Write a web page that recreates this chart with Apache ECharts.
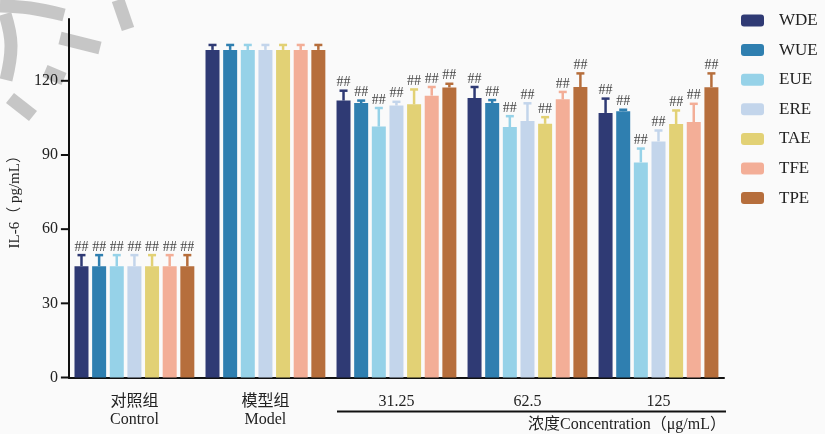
<!DOCTYPE html>
<html>
<head>
<meta charset="utf-8">
<script src="https://cdn.jsdelivr.net/npm/echarts@6/dist/echarts.min.js"></script>
<style>
  html, body { margin: 0; padding: 0; background: #fafafa; }
  #chart { width: 825px; height: 434px; }
</style>
</head>
<body>
<div id="chart"></div>
<script>
// Groups along the x axis
const categories = ['对照组\nControl', '模型组\nModel', '31.25', '62.5', '125'];
// Significance marks printed above each group's error bars
const sigMarks = ['##', '', '##', '##', '##'];
// y axis tick values
const yTicks = [0, 30, 60, 90, 120];

// Extract names
const seriesNames = ['WDE', 'WUE', 'EUE', 'ERE', 'TAE', 'TFE', 'TPE'];

// IL-6 means (pg/mL) per extract, one value per group
const meanWDE = [45, 132.5, 112.0, 113.0, 107.0];
const meanWUE = [45, 132.5, 111.0, 111.0, 107.7];
const meanEUE = [45, 132.5, 101.5, 101.3, 87.0];
const meanERE = [45, 132.5, 110.0, 103.7, 95.5];
const meanTAE = [45, 132.5, 110.5, 102.6, 102.5];
const meanTFE = [45, 132.5, 114.0, 112.5, 103.3];
const meanTPE = [45, 132.5, 117.3, 117.5, 117.4];

// Standard deviations
const sdWDE = [4.5, 2, 4.0, 4.5, 5.8];
const sdWUE = [4.5, 2, 1.0, 1.2, 0.6];
const sdEUE = [4.5, 2, 7.5, 4.4, 5.6];
const sdERE = [4.5, 2, 1.5, 7.2, 4.4];
const sdTAE = [4.5, 2, 6.0, 2.7, 5.5];
const sdTFE = [4.5, 2, 3.5, 3.0, 7.4];
const sdTPE = [4.5, 2, 1.5, 5.5, 5.6];

const means = [meanWDE, meanWUE, meanEUE, meanERE, meanTAE, meanTFE, meanTPE];
const sds = [sdWDE, sdWUE, sdEUE, sdERE, sdTAE, sdTFE, sdTPE];
const colors = ['#2f3a74', '#2f7fb0', '#96d2e8', '#c3d5eb', '#e2d175', '#f3ae97', '#b66e3c'];

const BAR_W = 14;
const GAP_RATIO = 0.26;
const PITCH = BAR_W * (1 + GAP_RATIO);
const TICK_LEN = 8;
const SERIF = '"Liberation Serif", "Noto Sans CJK SC", serif';

const chart = echarts.init(document.getElementById('chart'), null, { renderer: 'canvas' });

const series = [];
seriesNames.forEach((name, i) => {
  series.push({
    name: name,
    type: 'bar',
    barWidth: BAR_W,
    barGap: (GAP_RATIO * 100) + '%',
    itemStyle: { color: colors[i] },
    data: means[i],
    z: 2
  });
});
// Error bars (upper whisker only) with significance marks
seriesNames.forEach((name, i) => {
  series.push({
    name: name,
    type: 'custom',
    clip: false,
    z: 3,
    data: means[i].map((m, k) => [k, m, sds[i][k]]),
    renderItem: function (params, api) {
      const k = api.value(0);
      const m = api.value(1);
      const sd = api.value(2);
      const base = api.coord([k, m]);
      const top = api.coord([k, m + sd]);
      const x = base[0] + (i - 3) * PITCH;
      const children = [
        { type: 'line', shape: { x1: x, y1: base[1], x2: x, y2: top[1] },
          style: { stroke: colors[i], lineWidth: 2.5 } },
        { type: 'line', shape: { x1: x - 4, y1: top[1], x2: x + 4, y2: top[1] },
          style: { stroke: colors[i], lineWidth: 2.5 } }
      ];
      if (sigMarks[k]) {
        children.push({
          type: 'text',
          style: { text: sigMarks[k], x: x, y: top[1] - 1, align: 'center', verticalAlign: 'bottom',
                   font: '14px ' + SERIF, fill: '#444' }
        });
      }
      return { type: 'group', children: children };
    }
  });
});

// Light grey decorative strokes in the upper-left corner
const decoStyle = { stroke: '#c6c6c6', lineWidth: 13, fill: null, lineCap: 'butt' };
const deco = [
  [[0, 6], [30, 8], [64, 15]],
  [[5, 14], [11, 45], [6, 80]],
  [[10, 98], [33, 116]],
  [[60, 38], [100, 48]],
  [[45, 71], [64, 79]],
  [[118, 0], [128, 29]]
].map(pts => ({
  type: 'polyline', z: -10, silent: true,
  shape: { points: pts, smooth: 0.4 },
  style: decoStyle
}));

const staticGraphics = deco.concat([
  { type: 'line', z: 5, shape: { x1: 337, y1: 411.5, x2: 726, y2: 411.5 },
    style: { stroke: '#111', lineWidth: 2 } },
  { type: 'text', z: 5, x: 726, y: 425,
    style: { text: '浓度Concentration（μg/mL）', align: 'right', verticalAlign: 'middle',
             font: '16px ' + SERIF, fill: '#222' } }
]);

chart.setOption({
  backgroundColor: '#fafafa',
  animation: false,
  textStyle: { fontFamily: SERIF },
  grid: { left: 67, right: 101, top: 19, bottom: 56.5 },
  legend: {
    orient: 'vertical',
    left: 741,
    top: 12,
    padding: 0,
    itemWidth: 23,
    itemHeight: 12,
    itemGap: 12.6,
    data: seriesNames,
    textStyle: { fontFamily: SERIF, fontSize: 17, color: '#222', padding: [0, 0, 0, 10] }
  },
  xAxis: {
    type: 'category',
    data: categories,
    axisLine: { lineStyle: { color: '#111', width: 2 } },
    axisTick: { alignWithLabel: true, length: 6, lineStyle: { color: '#111', width: 2 } },
    axisLabel: { fontFamily: SERIF, fontSize: 16, color: '#222', lineHeight: 18, margin: 15 }
  },
  yAxis: {
    type: 'value',
    min: 0,
    max: 145,
    interval: 30,
    name: 'IL-6（ pg/mL）',
    nameLocation: 'middle',
    nameGap: 41,
    nameTextStyle: { fontFamily: SERIF, fontSize: 15, color: '#222' },
    splitLine: { show: false },
    axisLine: { show: true, lineStyle: { color: '#111', width: 2 } },
    axisTick: { show: false },
    axisLabel: { fontFamily: SERIF, fontSize: 16, color: '#222', margin: 11, customValues: yTicks }
  },
  graphic: staticGraphics,
  series: series
});

// y axis tick marks, placed through the axis scale at the labelled values only
const gridRect = chart.getModel().getComponent('grid', 0).coordinateSystem.getRect();
const axisX = gridRect.x;
const tickMarks = yTicks.map(v => {
  const y = chart.convertToPixel({ yAxisIndex: 0 }, v);
  return { type: 'line', z: 5, shape: { x1: axisX - TICK_LEN, y1: y, x2: axisX, y2: y },
           style: { stroke: '#111', lineWidth: 2 } };
});
chart.setOption({ graphic: staticGraphics.concat(tickMarks) });
</script>
</body>
</html>
